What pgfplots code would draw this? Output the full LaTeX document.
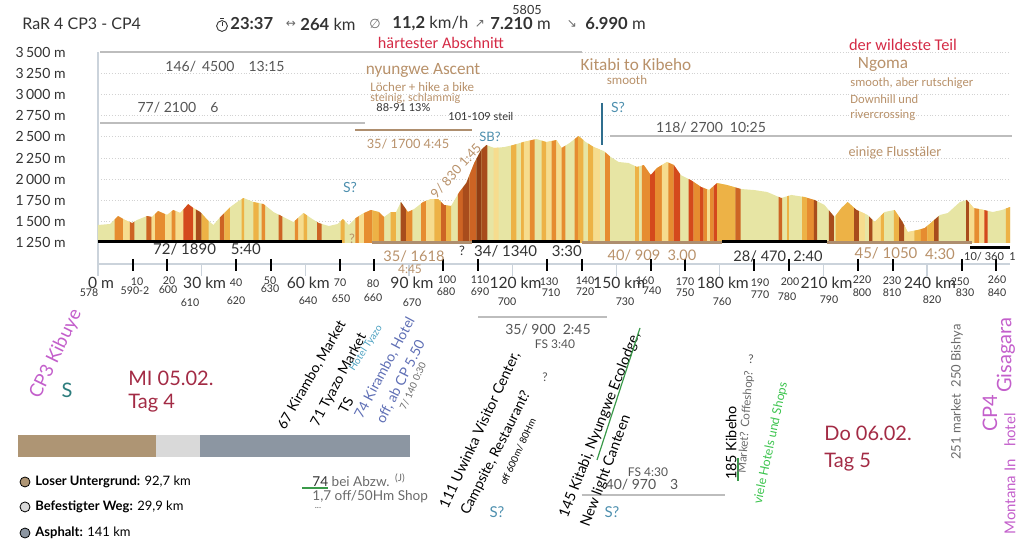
\documentclass[border=0pt]{standalone}
\usepackage{pgfplots}
\pgfplotsset{compat=1.18}
\usepackage{fontspec}
\setmainfont{Lato}
\newfontfamily\calib{Carlito}
\newfontfamily\symf{DejaVu Sans}
\newcommand\fs[1]{\fontsize{#1}{#1}\selectfont}

\definecolor{paleY}{HTML}{E7E5A4}
\definecolor{lightY}{HTML}{F6DC8E}
\definecolor{oY}{HTML}{EDB246}
\definecolor{orn}{HTML}{E68C30}
\definecolor{dorn}{HTML}{CD6424}
\definecolor{redo}{HTML}{D4491C}
\definecolor{brn}{HTML}{A84C1C}
\definecolor{dbrn}{HTML}{8F3D14}
\definecolor{tanline}{HTML}{AE8E6E}
\definecolor{tantext}{HTML}{B8916A}
\definecolor{annred}{HTML}{D42A45}
\definecolor{daydark}{HTML}{A32B45}
\definecolor{magent}{HTML}{C35FCB}
\definecolor{sblue}{HTML}{4D8FAE}
\definecolor{vblue}{HTML}{2F6E8E}
\definecolor{hblue}{HTML}{5F6FB5}
\definecolor{tblue}{HTML}{4AA0C0}
\definecolor{grayline}{HTML}{BDBDBD}
\definecolor{axgray}{HTML}{CBD3DB}
\definecolor{txt}{HTML}{333333}
\definecolor{gtxt}{HTML}{555555}
\definecolor{ltxt}{HTML}{6A6A6A}
\definecolor{greenl}{HTML}{3A9A4A}
\definecolor{greent}{HTML}{3CC44E}
\definecolor{steal}{HTML}{2D7D7D}
\definecolor{surfTan}{HTML}{AE9574}
\definecolor{surfLight}{HTML}{D9D9D9}
\definecolor{surfSlate}{HTML}{8C96A2}

\newcommand{\strip}[2]{\addplot[fill=#1, draw=none] coordinates {#2} -- cycle;}

\begin{document}
\begin{tikzpicture}
\path[use as bounding box] (0,0) rectangle (512pt,-272pt);
\begin{axis}[
  at={(49pt,-132pt)}, anchor=south west,
  scale only axis, width=456pt, height=106pt,
  xmin=0, xmax=264, ymin=1000, ymax=3500,
  clip=false,
  axis x line*=bottom, axis y line*=left,
  axis line style={axgray, line width=0.6pt},
  xtick={0,30,60,90,120,150,180,210,240},
  xticklabels={0 m,30 km,60 km,90 km,120 km,150 km,180 km,210 km,240 km},
  ytick={1250,1500,1750,2000,2250,2500,2750,3000,3250,3500},
  yticklabels={1\,250 m,1\,500 m,1\,750 m,2\,000 m,2\,250 m,2\,500 m,2\,750 m,3\,000 m,3\,250 m,3\,500 m},
  major tick length=6pt, tick align=outside,
  xtick style={axgray, line width=0.6pt},
  ytick style={draw=none},
  ymajorgrids, grid style={densely dotted, gray!35, line width=0.4pt},
  xticklabel style={font=\fs{7.8}, text=txt, anchor=base, inner sep=0pt, yshift=-6.5pt, xshift=1.5pt},
  yticklabel style={font=\fs{7}, text=txt, anchor=east, inner sep=0pt, xshift=-10pt},
]
% elevation profile (km, m)
\addplot[fill=paleY, draw=none] coordinates {(0,1250)
(0,1460) (3.5,1472) (5.8,1566) (7.8,1519) (9.9,1483) (11.3,1519) (14.2,1566) (15.7,1554)
(17.4,1625) (20.0,1578) (21.8,1637) (23.8,1601) (26.1,1707) (27.6,1660) (29.6,1613) (31.7,1519)
(33.4,1460) (35.4,1554) (38.3,1672) (40.7,1743) (42.1,1778) (45.0,1731) (47.9,1707) (50.8,1613)
(53.7,1554) (56.6,1495) (59.5,1601) (61.6,1542) (63.9,1483) (66.8,1448) (69.4,1472) (70.9,1531)
(72.6,1460) (74.6,1542) (77.0,1601) (79.0,1637) (81.3,1613) (82.8,1554) (84.8,1613) (86.3,1613)
(87.7,1731) (89.7,1613) (91.5,1648) (94.1,1731) (96.4,1766) (98.5,1766) (100.2,1696) (102.2,1684)
(104.6,1849) (106.6,1955) (108.9,2191) (110.9,2344) (112.4,2403) (114.7,2368) (117.6,2379) (120.2,2403)
(123.1,2438) (126.9,2474) (129.8,2438) (132.7,2462) (134.2,2368) (136.5,2427) (139.1,2509) (141.2,2438)
(143.5,2379) (146.4,2332) (148.4,2262) (150.7,2203) (153.6,2191) (156.0,2144) (158.0,2167) (160.0,2049)
(161.8,2132) (164.7,2203) (166.7,2167) (168.7,2049) (171.6,1990) (174.6,1908) (176.9,1872) (179.2,1955)
(182.1,1931) (186.2,1884) (190.0,1872) (193.7,1849) (197.8,1778) (200.7,1814) (204.5,1790) (207.4,1755)
(210.3,1696) (213.2,1554) (215.2,1660) (217.0,1731) (219.6,1637) (222.8,1578) (224.8,1495) (227.7,1613)
(230.6,1637) (232.9,1495) (234.4,1377) (237.3,1401) (239.3,1424) (241.4,1495) (243.7,1578) (246.0,1601)
(249.5,1731) (251.5,1755) (253.5,1660) (256.5,1637) (259.0,1613) (261.7,1637) (264,1672)
(264,1250)} -- cycle;
% gradient-coloured segments
\strip{orn}{(4.8,1250)(4.8,1525)(5.8,1566)(7.3,1531)(7.3,1250)}
\strip{lightY}{(7.3,1250)(7.3,1531)(7.8,1519)(9.2,1495)(9.2,1250)}
\strip{dorn}{(9.2,1250)(9.2,1495)(9.9,1483)(10.5,1498)(10.5,1250)}
\strip{dorn}{(14.0,1250)(14.0,1563)(14.2,1566)(15.5,1556)(15.5,1250)}
\strip{lightY}{(15.5,1250)(15.5,1556)(15.7,1554)(16.5,1587)(16.5,1250)}
\strip{orn}{(16.5,1250)(16.5,1587)(17.4,1625)(19.4,1589)(19.4,1250)}
\strip{lightY}{(19.4,1250)(19.4,1589)(20.0,1578)(21.3,1621)(21.3,1250)}
\strip{orn}{(21.3,1250)(21.3,1621)(21.8,1637)(22.5,1624)(22.5,1250)}
\strip{lightY}{(22.5,1250)(22.5,1624)(23.8,1601)(24.7,1642)(24.7,1250)}
\strip{redo}{(24.7,1250)(24.7,1642)(26.1,1707)(27.6,1660)(27.6,1250)}
\strip{lightY}{(27.6,1250)(27.6,1660)(28.3,1644)(28.3,1250)}
\strip{brn}{(28.3,1250)(28.3,1644)(29.6,1613)(30.0,1595)(30.0,1250)}
\strip{oY}{(30.0,1250)(30.0,1595)(31.7,1519)(32.0,1509)(32.0,1250)}
\strip{dorn}{(35.3,1250)(35.3,1549)(35.4,1554)(36.6,1603)(36.6,1250)}
\strip{oY}{(36.6,1250)(36.6,1603)(38.2,1668)(38.2,1250)}
\strip{oY}{(41.6,1250)(41.6,1766)(42.1,1778)(42.3,1775)(42.3,1250)}
\strip{oY}{(45.0,1250)(45.0,1731)(46.5,1719)(46.5,1250)}
\strip{orn}{(47.4,1250)(47.4,1711)(47.9,1707)(48.4,1691)(48.4,1250)}
\strip{dorn}{(52.3,1250)(52.3,1583)(53.4,1560)(53.4,1250)}
\strip{orn}{(57.0,1250)(57.0,1510)(58.0,1546)(58.0,1250)}
\strip{lightY}{(58.0,1250)(58.0,1546)(59.5,1601)(59.5,1250)}
\strip{oY}{(59.5,1250)(59.5,1601)(60.5,1573)(60.5,1250)}
\strip{dorn}{(63.4,1250)(63.4,1496)(63.9,1483)(64.7,1473)(64.7,1250)}
\strip{oY}{(70.2,1250)(70.2,1503)(70.9,1531)(71.4,1510)(71.4,1250)}
\strip{orn}{(74.5,1250)(74.5,1538)(74.6,1542)(75.5,1564)(75.5,1250)}
\strip{lightY}{(75.5,1250)(75.5,1564)(77.0,1601)(77.0,1250)}
\strip{orn}{(77.0,1250)(77.0,1601)(79.0,1637)(79.4,1633)(79.4,1250)}
\strip{oY}{(79.4,1250)(79.4,1633)(81.3,1613)(81.3,1250)}
\strip{orn}{(81.3,1250)(81.3,1613)(82.8,1554)(82.8,1250)}
\strip{oY}{(84.7,1250)(84.7,1610)(84.8,1613)(86.2,1613)(86.2,1250)}
\strip{brn}{(87.6,1250)(87.6,1723)(87.7,1731)(89.2,1643)(89.2,1250)}
\strip{orn}{(89.2,1250)(89.2,1643)(89.7,1613)(91.0,1638)(91.0,1250)}
\strip{orn}{(93.5,1250)(93.5,1712)(94.1,1731)(95.0,1745)(95.0,1250)}
\strip{lightY}{(95.0,1250)(95.0,1745)(96.4,1766)(97.4,1766)(97.4,1250)}
\strip{oY}{(97.4,1250)(97.4,1766)(98.5,1766)(99.3,1733)(99.3,1250)}
\strip{dorn}{(99.3,1250)(99.3,1733)(100.2,1696)(100.8,1692)(100.8,1250)}
\strip{oY}{(100.8,1250)(100.8,1692)(102.2,1684)(102.2,1250)}
\strip{dorn}{(104.2,1250)(104.2,1822)(104.6,1849)(105.6,1902)(105.6,1250)}
\strip{brn}{(105.6,1250)(105.6,1902)(106.6,1955)(107.5,2047)(107.5,1250)}
\strip{dorn}{(107.5,1250)(107.5,2047)(108.9,2191)(109.5,2237)(109.5,1250)}
\strip{dbrn}{(109.5,1250)(109.5,2237)(110.9,2344)(111.0,2348)(111.0,1250)}
\strip{brn}{(111.0,1250)(111.0,2348)(112.4,2403)(112.7,2398)(112.7,1250)}
\strip{lightY}{(114.5,1250)(114.5,2371)(114.7,2368)(116.0,2373)(116.0,1250)}
\strip{oY}{(119.6,1250)(119.6,2397)(120.2,2403)(121.1,2414)(121.1,1250)}
\strip{oY}{(122.5,1250)(122.5,2431)(123.1,2438)(123.3,2440)(123.3,1250)}
\strip{lightY}{(123.3,1250)(123.3,2440)(125.0,2456)(125.0,1250)}
\strip{orn}{(125.0,1250)(125.0,2456)(126.4,2469)(126.4,1250)}
\strip{oY}{(128.4,1250)(128.4,2455)(129.8,2438)(129.8,1250)}
\strip{lightY}{(129.8,1250)(129.8,2438)(131.3,2450)(131.3,1250)}
\strip{orn}{(131.3,1250)(131.3,2450)(132.7,2462)(132.7,1250)}
\strip{lightY}{(132.7,1250)(132.7,2462)(134.2,2368)(134.2,1250)}
\strip{orn}{(134.2,1250)(134.2,2368)(135.3,2396)(135.3,1250)}
\strip{orn}{(138.0,1250)(138.0,2474)(139.0,2506)(139.0,1250)}
\strip{oY}{(139.0,1250)(139.0,2506)(139.1,2509)(140.5,2462)(140.5,1250)}
\strip{oY}{(141.9,1250)(141.9,2420)(143.4,2381)(143.4,1250)}
\strip{lightY}{(143.4,1250)(143.4,2381)(143.5,2379)(145.3,2350)(145.3,1250)}
\strip{orn}{(146.8,1250)(146.8,2318)(148.2,2269)(148.2,1250)}
\strip{oY}{(155.5,1250)(155.5,2154)(156.0,2144)(156.6,2151)(156.6,1250)}
\strip{orn}{(157.4,1250)(157.4,2160)(158.0,2167)(159.8,2061)(159.8,1250)}
\strip{redo}{(159.8,1250)(159.8,2061)(160.0,2049)(161.3,2109)(161.3,1250)}
\strip{orn}{(161.3,1250)(161.3,2109)(161.8,2132)(163.2,2166)(163.2,1250)}
\strip{lightY}{(163.2,1250)(163.2,2166)(164.7,2203)(165.1,2196)(165.1,1250)}
\strip{orn}{(165.1,1250)(165.1,2196)(166.6,2169)(166.6,1250)}
\strip{redo}{(166.6,1250)(166.6,2169)(166.7,2167)(168.5,2061)(168.5,1250)}
\strip{redo}{(171.0,1250)(171.0,2002)(171.6,1990)(172.4,1968)(172.4,1250)}
\strip{orn}{(172.4,1250)(172.4,1968)(174.3,1916)(174.3,1250)}
\strip{redo}{(174.3,1250)(174.3,1916)(174.6,1908)(175.3,1897)(175.3,1250)}
\strip{orn}{(175.3,1250)(175.3,1897)(176.3,1881)(176.3,1250)}
\strip{lightY}{(176.3,1250)(176.3,1881)(176.9,1872)(177.2,1883)(177.2,1250)}
\strip{orn}{(177.2,1250)(177.2,1883)(178.2,1919)(178.2,1250)}
\strip{redo}{(178.2,1250)(178.2,1919)(179.2,1955)(179.2,1250)}
\strip{oY}{(179.2,1250)(179.2,1955)(182.1,1931)(184.5,1903)(184.5,1250)}
\strip{dorn}{(184.5,1250)(184.5,1903)(186.0,1886)(186.0,1250)}
\strip{dorn}{(197.0,1250)(197.0,1792)(197.8,1778)(198.0,1780)(198.0,1250)}
\strip{oY}{(199.5,1250)(199.5,1799)(200.0,1805)(200.0,1250)}
\strip{oY}{(203.8,1250)(203.8,1794)(204.5,1790)(205.3,1780)(205.3,1250)}
\strip{orn}{(205.3,1250)(205.3,1780)(207.2,1757)(207.2,1250)}
\strip{brn}{(207.2,1250)(207.2,1757)(207.4,1755)(208.2,1739)(208.2,1250)}
\strip{brn}{(211.6,1250)(211.6,1632)(213.0,1564)(213.0,1250)}
\strip{oY}{(213.5,1250)(213.5,1570)(215.2,1660)(217.0,1731)(218.9,1662)(218.9,1250)}
\strip{brn}{(218.9,1250)(218.9,1662)(219.6,1637)(220.3,1624)(220.3,1250)}
\strip{lightY}{(220.3,1250)(220.3,1624)(222.0,1593)(222.0,1250)}
\strip{brn}{(223.2,1250)(223.2,1561)(224.2,1520)(224.2,1250)}
\strip{lightY}{(224.2,1250)(224.2,1520)(224.8,1495)(226.6,1568)(226.6,1250)}
\strip{oY}{(226.6,1250)(226.6,1568)(227.5,1605)(227.5,1250)}
\strip{oY}{(230.4,1250)(230.4,1635)(230.6,1637)(231.9,1557)(231.9,1250)}
\strip{brn}{(231.9,1250)(231.9,1557)(232.9,1495)(233.4,1456)(233.4,1250)}
\strip{lightY}{(233.4,1250)(233.4,1456)(234.4,1377)(236.3,1393)(236.3,1250)}
\strip{oY}{(236.3,1250)(236.3,1393)(237.3,1401)(238.2,1411)(238.2,1250)}
\strip{orn}{(238.2,1250)(238.2,1411)(239.3,1424)(240.1,1451)(240.1,1250)}
\strip{oY}{(240.1,1250)(240.1,1451)(241.4,1495)(242.0,1517)(242.0,1250)}
\strip{brn}{(242.0,1250)(242.0,1517)(243.3,1564)(243.3,1250)}
\strip{brn}{(251.3,1250)(251.3,1753)(251.5,1755)(252.2,1722)(252.2,1250)}
\strip{lightY}{(252.2,1250)(252.2,1722)(253.5,1660)(253.7,1658)(253.7,1250)}
\strip{orn}{(253.7,1250)(253.7,1658)(255.1,1648)(255.1,1250)}
\strip{lightY}{(255.1,1250)(255.1,1648)(256.5,1637)(256.6,1636)(256.6,1250)}
\strip{redo}{(256.6,1250)(256.6,1636)(257.5,1627)(257.5,1250)}
\strip{oY}{(262.8,1250)(262.8,1654)(264,1672)(264,1250)}
% segment lines
\draw[grayline, line width=1pt] (axis cs:0.6,3500) -- (axis cs:140.2,3500);
\draw[grayline, line width=1pt] (axis cs:0.6,2663) -- (axis cs:77.3,2663);
\draw[tanline, line width=1pt] (axis cs:74.4,2580) -- (axis cs:108.2,2580);
\draw[grayline, line width=1pt] (axis cs:148.2,2509) -- (axis cs:264.5,2509);
\draw[vblue, line width=1pt] (axis cs:145.9,2899) -- (axis cs:145.9,2403);
\draw[black, line width=1.5pt] (axis cs:0,1262) -- (axis cs:70.6,1262);
\draw[tanline, line width=1.5pt] (axis cs:79.3,1259) -- (axis cs:108.2,1259);
\draw[black, line width=1.5pt] (axis cs:108.2,1262) -- (axis cs:139.5,1262);
\draw[tanline, line width=1.5pt] (axis cs:140.1,1250) -- (axis cs:180.6,1250);
\draw[black, line width=1.5pt] (axis cs:180.6,1262) -- (axis cs:211.0,1262);
\draw[tanline, line width=1.5pt] (axis cs:211.0,1250) -- (axis cs:253.0,1250);
\draw[black, line width=1.5pt] (axis cs:252.5,1200) -- (axis cs:264.0,1200);
\foreach \k in {10,20,40,50,70,80,100,110,130,140,160,170,190,200,220,230,250,260}{
  \edef\tmp{\noexpand\draw[black, line width=1pt] (axis cs:\k,1059) -- (axis cs:\k,917);}\tmp
}
\draw[grayline, line width=1pt] (axis cs:110.0,375) -- (axis cs:147.3,375);
\draw[grayline, line width=1pt] (axis cs:140.0,-1724) -- (axis cs:181.5,-1724);
\end{axis}

% surface bar
\begin{axis}[
  at={(9pt,-228.5pt)}, anchor=south west,
  scale only axis, width=196pt, height=11pt,
  xmin=0, xmax=263.6, ymin=-0.5, ymax=0.5,
  hide axis, clip=false,
]
\addplot[fill=surfTan, draw=none] coordinates {(0,-0.5) (92.7,-0.5) (92.7,0.5) (0,0.5)} -- cycle;
\addplot[fill=surfLight, draw=none] coordinates {(92.7,-0.5) (122.6,-0.5) (122.6,0.5) (92.7,0.5)} -- cycle;
\addplot[fill=surfSlate, draw=none] coordinates {(122.6,-0.5) (263.6,-0.5) (263.6,0.5) (122.6,0.5)} -- cycle;
\addplot[only marks, mark=*, mark size=2.5pt, mark options={draw=none, fill=surfTan}] coordinates {(4.7,-1.636)};
\addplot[only marks, mark=*, mark size=2.5pt, mark options={draw=none, fill=surfLight}] coordinates {(4.7,-2.77)};
\addplot[only marks, mark=*, mark size=2.5pt, mark options={draw=none, fill=surfSlate}] coordinates {(4.7,-3.955)};
\end{axis}

\begin{scope}[x=0.5pt, y=-0.5pt, every node/.style={inner sep=0pt}]
% header
\node[anchor=west, text=txt] at (22,24) {\fs{8}RaR 4 CP3 - CP4};
\draw[txt, line width=0.45pt] (222,26) circle[radius=2.7pt];
\draw[txt, line width=0.45pt] (222,26) -- (222,22.5) (220,18.5) -- (224,18.5);
\node[anchor=west, text=txt] at (230,24) {\fs{8.3}\textbf{23:37}};
\node[text=ltxt] at (291,24) {\fs{6}\symf ↔};
\node[anchor=west, text=txt] at (300,24) {\fs{8.3}\textbf{264} km};
\node[text=ltxt] at (375,24) {\fs{6.5}\symf ∅};
\node[anchor=west, text=txt] at (392,24) {\fs{8.3}\textbf{11,2} km/h};
\node[text=ltxt] at (480,24) {\fs{6}\symf ↗};
\node[anchor=west, text=txt] at (490,24) {\fs{8.3}\textbf{7.210} m};
\node[text=ltxt] at (572,24) {\fs{6}\symf ↘};
\node[anchor=west, text=txt] at (585,24) {\fs{8.3}\textbf{6.990} m};
\node[text=txt] at (527,10) {\fs{6.3}5805};
% top annotations
\node[text=annred] at (441,43) {\fs{8.1}\calib härtester Abschnitt};
\node[text=gtxt] at (225,67) {\fs{7}146/\, 4500\quad 13:15};
\node[text=gtxt] at (178,108) {\fs{7}77/ 2100\quad 6};
\node[text=tantext] at (423,70) {\fs{8.6}\calib nyungwe Ascent};
\node[anchor=west, text=tantext] at (370,87) {\fs{6.5}\calib Löcher + hike a bike};
\node[anchor=west, text=tantext] at (370,98) {\fs{6}\calib steinig, schlammig};
\node[anchor=west, text=txt] at (376,108) {\fs{5.5}88-91 13\%};
\node[anchor=west, text=txt] at (448,117) {\fs{5.5}101-109 steil};
\node[text=tantext] at (408,144) {\fs{6.4}35/ 1700 4:45};
\node[text=sblue] at (490,137) {\fs{6.5}SB?};
\node[text=tantext, rotate=48] at (456,171) {\fs{6.5}9/ 830 1:45};
\node[text=sblue] at (350,187) {\fs{7}S?};
\node[text=txt] at (207,249) {\fs{7.5}72/ 1890\quad 5:40};
\node[text=tantext] at (352,239) {\fs{6.5}?};
\node[text=tantext] at (414,256) {\fs{7.3}35/ 1618};
\node[text=tantext] at (410,269) {\fs{6}4:45};
\node[text=txt] at (462,251) {\fs{6.5}?};
\node[text=txt] at (528,251) {\fs{7.5}34/ 1340\quad 3:30};
\node[text=tantext] at (652,255) {\fs{7.3}40/ 909\enspace 3.00};
\node[text=txt] at (778,256) {\fs{7.3}28/ 470\enspace 2:40};
\node[text=tantext] at (886,253) {\fs{7.5}45/ 1050};
\node[text=tantext] at (940,254) {\fs{7.5}4:30};
\node[text=txt] at (990,257) {\fs{5.5}10/ 360\enspace 1};
\node[text=sblue] at (618,107) {\fs{7}S?};
\node[text=tantext] at (636,65) {\fs{8.6}\calib Kitabi to Kibeho};
\node[text=tantext] at (627,80) {\fs{6.5}\calib smooth};
\node[text=gtxt] at (711,128) {\fs{7}118/ 2700\enspace 10:25};
\node[text=annred] at (903,45) {\fs{8.2}\calib der wildeste Teil};
\node[text=tantext] at (883,64) {\fs{8.6}\calib Ngoma};
\node[anchor=west, text=tantext] at (850,83) {\fs{6.3}\calib smooth, aber rutschiger};
\node[anchor=west, text=tantext] at (850,99) {\fs{6.3}\calib Downhill und};
\node[anchor=west, text=tantext] at (850,115) {\fs{6.3}\calib rivercrossing};
\node[text=tantext] at (895,153) {\fs{7.1}\calib einige Flusstäler};
% small km numbers
\foreach \t/\x/\y in {10/137/282,20/169/281,40/236/283,50/270/281,70/340/283,80/373/284,100/447/280,110/480/280,130/549/282,140/585/281,160/645/281,170/685/282,190/760/283,200/790/282,220/862/280,230/892/281,250/960/282,260/997/280,
578/89/293,590-2/135/291,600/168/290,610/190/303,620/236/301,630/270/289,640/308/301,650/341/299,660/373/298,670/412/303,680/446/292,690/480/292,700/507/302,710/551/293,720/585/292,730/625/302,740/652/291,750/685/293,760/722/302,770/760/295,780/787/297,790/829/300,800/862/293,810/892/293,820/932/300,830/965/293,840/997/293}
  {\node[text=txt] at (\x,\y) {\fs{5.3}\t};}
% lower annotations
\node[text=magent, rotate=64] at (56,354) {\fs{9.3}CP3 Kibuye};
\node[text=steal] at (67,390) {\fs{10}S};
\node[anchor=west, text=daydark] at (128,378) {\fs{10}MI 05.02.};
\node[anchor=west, text=daydark] at (128,403) {\fs{10}Tag 4};
\node[text=black, rotate=60] at (312,375) {\fs{7}67 Kirambo, Market};
\node[text=black, rotate=62] at (339,380) {\fs{7}71 Tyazo Market};
\node[text=black, rotate=62] at (346,405) {\fs{7}TS};
\node[text=tblue, rotate=57] at (366,348) {\fs{5}Hotel Tyazo};
\node[text=hblue, rotate=62] at (385,368) {\fs{7}74 Kirambo, Hotel};
\node[text=hblue, rotate=63] at (401,382) {\fs{7}off, ab CP 5.50};
\node[text=ltxt, rotate=66] at (413,386) {\fs{4.8}7/ 140 0:30};
\node[anchor=west, text=ltxt] at (312,482) {\fs{6.8}\textcolor{txt}{74} bei Abzw.};
\draw[greenl, line width=0.8pt] (302,488) -- (328,488);
\node[text=ltxt] at (400,478) {\fs{5}(J)};
\node[anchor=west, text=ltxt] at (312,497) {\fs{6.8}1,7 off/50Hm Shop};
\node[text=ltxt] at (318,508) {\fs{4.5}...};
\node[anchor=west, text=black] at (35,482) {\fs{6.5}\textbf{Loser Untergrund:} 92,7 km};
\node[anchor=west, text=black] at (35,507) {\fs{6.5}\textbf{Befestigter Weg:} 29,9 km};
\node[anchor=west, text=black] at (35,533) {\fs{6.5}\textbf{Asphalt:} 141 km};
\node[text=black, rotate=65] at (480,430) {\fs{7.2}111 Uwinka Visitor Center,};
\node[text=black, rotate=63] at (496,453) {\fs{7}Campsite, Restaurant?};
\node[text=black, rotate=65] at (518,452) {\fs{4.8}off 600m/ 80Hm};
\node[text=sblue] at (497,512) {\fs{7.5}S?};
\node[text=gtxt] at (548,330) {\fs{7}35/ 900\enspace 2:45};
\node[text=gtxt] at (555,344) {\fs{6}FS 3:40};
\node[text=gtxt] at (545,377) {\fs{6}?};
\node[text=black, rotate=68.5] at (600,425) {\fs{7.2}145 Kitabi, Nyungwe Ecolodge,};
\node[text=black, rotate=69.5] at (606,471) {\fs{7.2}New light Canteen};
\draw[greenl, line width=0.6pt] (597,460) -- (640,328);
\node[text=sblue] at (612,512) {\fs{7.5}S?};
\node[text=gtxt] at (642,485) {\fs{7}40/ 970\quad 3};
\node[text=gtxt] at (648,472) {\fs{6}FS 4:30};
\node[text=black, rotate=90] at (731,443) {\fs{7.2}185 Kibeho};
\draw[greenl, line width=0.8pt] (738,458) -- (738,481);
\node[text=ltxt, rotate=86] at (746,422) {\fs{5.8}Market? Coffeshop?};
\node[text=gtxt] at (751,359) {\fs{6}?};
\node[text=greent, rotate=78] at (771,443) {\fs{6.2}viele Hotels und Shops};
\node[anchor=west, text=daydark] at (824,433) {\fs{10}Do 06.02.};
\node[anchor=west, text=daydark] at (824,462) {\fs{10}Tag 5};
\node[text=ltxt, rotate=90] at (957,392) {\fs{6.5}251 market\enspace 250 Bishya};
\node[text=magent, rotate=90] at (990,413) {\fs{10}CP4};
\node[text=magent, rotate=90] at (1006,355) {\fs{10}Gisagara};
\node[text=magent, rotate=90] at (1010,430) {\fs{7.5}hotel};
\node[text=magent, rotate=90] at (1010,497) {\fs{7.5}Montana In};
\end{scope}
\end{tikzpicture}
\end{document}
